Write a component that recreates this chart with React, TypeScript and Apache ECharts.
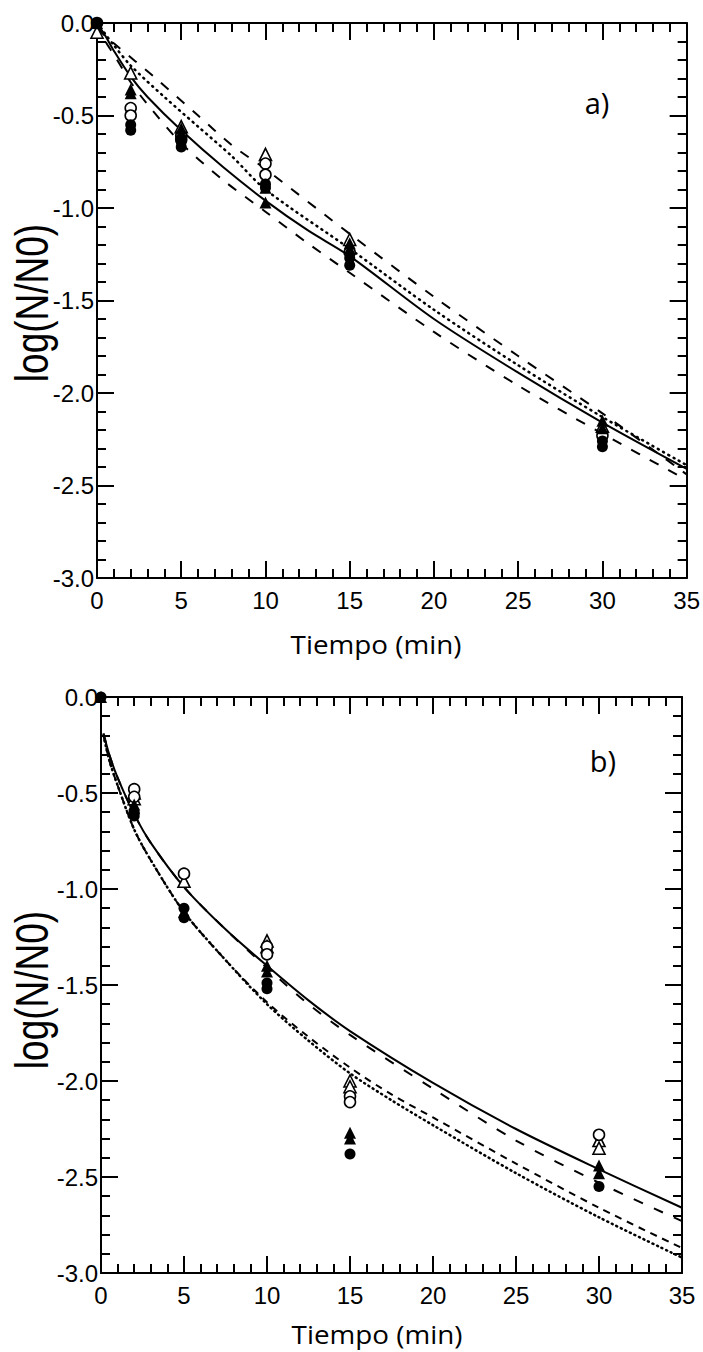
import React, { useEffect, useRef } from "react";
import * as echarts from "echarts";

// ---------- tick labels ----------
const xTicks = [0, 5, 10, 15, 20, 25, 30, 35];
const yTicks = [0, -0.5, -1.0, -1.5, -2.0, -2.5, -3.0];

// ---------- Panel a: measured points [time, log(N/N0)] ----------
const aOpenTriangle = [[0, -0.05], [2, -0.27], [5, -0.56], [10, -0.71], [15, -1.17], [30, -2.18]];
const aOpenCircle = [[0, 0], [2, -0.46], [2, -0.5], [5, -0.61], [5, -0.63], [10, -0.76], [10, -0.82], [15, -1.24], [30, -2.23]];
const aFilledTriangle = [[0, 0], [2, -0.36], [2, -0.38], [5, -0.57], [5, -0.6], [10, -0.89], [10, -0.97], [15, -1.19], [15, -1.22], [30, -2.15], [30, -2.19]];
const aFilledCircle = [[0, 0], [2, -0.55], [2, -0.58], [5, -0.64], [5, -0.67], [10, -0.87], [10, -0.89], [15, -1.27], [15, -1.31], [30, -2.26], [30, -2.29]];

// ---------- Panel a: model curves ----------
const aSolid = [[0, 0], [0.5, -0.07], [1, -0.15], [2, -0.29], [3, -0.4], [5, -0.58], [7.5, -0.78], [10, -0.96], [12.5, -1.12], [15, -1.26], [20, -1.6], [25, -1.89], [30, -2.16], [35, -2.41]];
const aDotted = [[0, 0], [1, -0.12], [2, -0.23], [4, -0.4], [6, -0.56], [8, -0.72], [10, -0.9], [15, -1.22], [20, -1.55], [25, -1.85], [30, -2.13], [35, -2.39]];
const aDashUpper = [[0, -0.03], [1, -0.11], [3.5, -0.3], [6, -0.5], [8, -0.66], [10, -0.79], [15, -1.14], [20, -1.48], [25, -1.8], [30, -2.11], [35, -2.44]];
const aDashLower = [[0, 0], [0.5, -0.1], [1, -0.17], [2, -0.32], [3, -0.44], [5, -0.65], [7.5, -0.85], [10, -1.02], [12.5, -1.19], [15, -1.35], [20, -1.67], [25, -1.96], [30, -2.22], [35, -2.47]];

// ---------- Panel b: measured points ----------
const bOpenTriangle = [[2, -0.5], [2, -0.53], [5, -0.96], [10, -1.27], [10, -1.3], [15, -2.0], [15, -2.03], [30, -2.31], [30, -2.35]];
const bOpenCircle = [[2, -0.48], [2, -0.52], [5, -0.92], [10, -1.3], [10, -1.34], [15, -2.08], [15, -2.11], [30, -2.28]];
const bFilledTriangle = [[0, 0], [2, -0.56], [2, -0.58], [5, -1.12], [10, -1.4], [10, -1.43], [15, -2.27], [15, -2.3], [30, -2.44], [30, -2.48]];
const bFilledCircle = [[0, 0], [2, -0.6], [2, -0.62], [5, -1.1], [5, -1.15], [10, -1.49], [10, -1.52], [15, -2.38], [30, -2.55]];

// ---------- Panel b: model curves ----------
const bSolid = [[0.15, -0.19], [0.5, -0.3], [1, -0.42], [2, -0.61], [3, -0.76], [5, -0.99], [7.5, -1.21], [10, -1.4], [12.5, -1.58], [15, -1.74], [20, -2.01], [25, -2.25], [30, -2.46], [35, -2.66]];
const bLongDash = [[0.15, -0.19], [0.5, -0.3], [1, -0.42], [2, -0.61], [3, -0.76], [5, -0.99], [7.5, -1.21], [10, -1.41], [12.5, -1.6], [15, -1.76], [20, -2.04], [25, -2.31], [30, -2.53], [35, -2.73]];
const bShortDash = [[0.15, -0.2], [0.5, -0.33], [1, -0.46], [2, -0.69], [3, -0.85], [5, -1.12], [7.5, -1.37], [10, -1.59], [12.5, -1.77], [15, -1.93], [17.5, -2.07], [20, -2.19], [25, -2.43], [30, -2.66], [35, -2.87]];
const bDotted = [[0.15, -0.2], [0.5, -0.33], [1, -0.46], [2, -0.69], [3, -0.85], [5, -1.12], [7.5, -1.37], [10, -1.6], [12.5, -1.79], [15, -1.96], [17.5, -2.1], [20, -2.23], [25, -2.48], [30, -2.71], [35, -2.92]];

const panelLabels = ["a)", "b)"];
const xTitle = "Tiempo (min)";
const yTitle = "log(N/N0)";

const TICK_FONT = "'Liberation Sans', Arial, sans-serif";
const TITLE_FONT = "'Open Sans', 'Noto Sans', sans-serif";

export default function App() {
  const ref = useRef<HTMLDivElement>(null);

  useEffect(() => {
    if (!ref.current) return;
    const chart = echarts.init(ref.current, null, { renderer: "svg" });

    const axisLine = { show: true, onZero: false, lineStyle: { color: "#000", width: 2 } };
    const axisTick = { show: true, inside: true, length: 17, lineStyle: { color: "#000", width: 2 } };
    const minorTick = { show: true, splitNumber: 5, length: 9, lineStyle: { color: "#000", width: 2 } };

    const makeX = (gridIndex: number, position: string, labels: boolean) => ({
      type: "value",
      gridIndex,
      position,
      min: xTicks[0],
      max: xTicks[xTicks.length - 1],
      interval: 5,
      axisLine,
      axisTick,
      minorTick,
      splitLine: { show: false },
      axisLabel: {
        show: labels,
        color: "#000",
        fontFamily: TICK_FONT,
        fontSize: 24,
        margin: 10,
        showMinLabel: true,
        showMaxLabel: true,
      },
    });
    const makeY = (gridIndex: number, position: string, labels: boolean) => ({
      type: "value",
      gridIndex,
      position,
      min: yTicks[yTicks.length - 1],
      max: yTicks[0],
      interval: 0.5,
      axisLine,
      axisTick,
      minorTick,
      splitLine: { show: false },
      axisLabel: {
        show: labels,
        color: "#000",
        fontFamily: TICK_FONT,
        fontSize: 24,
        margin: 3,
        showMinLabel: true,
        showMaxLabel: true,
        formatter: (v: number) => v.toFixed(1),
      },
    });

    const line = (data: number[][], xi: number, type: any, width = 2, cap = "butt") => ({
      type: "line",
      xAxisIndex: xi,
      yAxisIndex: xi,
      data,
      smooth: 0.3,
      symbol: "none",
      z: 2,
      lineStyle: { color: "#000", width, type, cap, opacity: 1 },
    });
    const pts = (data: number[][], xi: number, symbol: string, open: boolean) => ({
      type: "scatter",
      xAxisIndex: xi,
      yAxisIndex: xi,
      data,
      symbol,
      symbolSize: symbol === "triangle" ? 12 : 11,
      clip: false,
      z: open ? 3 : 4,
      itemStyle: open
        ? { color: "#fff", borderColor: "#000", borderWidth: 1.6, opacity: 1 }
        : { color: "#000", borderColor: "#000", borderWidth: 0, opacity: 1 },
    });

    const text = (
      t: string,
      x: number,
      y: number,
      font: string,
      size: number,
      rotation = 0,
      scaleX = 1,
      scaleY = 1
    ) => ({
      type: "text",
      x,
      y,
      rotation,
      scaleX,
      scaleY,
      style: {
        text: t,
        fontFamily: font,
        fontSize: size,
        fill: "#000",
        align: "center",
        verticalAlign: "middle",
      },
    });

    chart.setOption({
      animation: false,
      backgroundColor: "#fff",
      grid: [
        { left: 97, top: 23, width: 591, height: 555 },
        { left: 101, top: 697, width: 581, height: 576 },
      ],
      xAxis: [makeX(0, "bottom", true), makeX(0, "top", false), makeX(1, "bottom", true), makeX(1, "top", false)],
      yAxis: [makeY(0, "left", true), makeY(0, "right", false), makeY(1, "left", true), makeY(1, "right", false)],
      series: [
        line(aDashUpper, 0, [10, 11]),
        line(aDashLower, 0, [10, 11]),
        line(aDotted, 0, [1, 5], 2.5, "round"),
        line(aSolid, 0, "solid", 2),
        pts(aOpenTriangle, 0, "triangle", true),
        pts(aOpenCircle, 0, "circle", true),
        pts(aFilledTriangle, 0, "triangle", false),
        pts(aFilledCircle, 0, "circle", false),

        line(bShortDash, 2, [7, 6]),
        line(bDotted, 2, [1, 4], 2.5, "round"),
        line(bLongDash, 2, [10, 12]),
        line(bSolid, 2, "solid", 2),
        pts(bOpenTriangle, 2, "triangle", true),
        pts(bOpenCircle, 2, "circle", true),
        pts(bFilledTriangle, 2, "triangle", false),
        pts(bFilledCircle, 2, "circle", false),
      ],
      graphic: [
        text(yTitle, 32, 303, TICK_FONT, 37, Math.PI / 2, 1, 1.25),
        text(yTitle, 32, 990, TICK_FONT, 37, Math.PI / 2, 1, 1.25),
        text(xTitle, 376, 644, TITLE_FONT, 26, 0, 1.07, 1),
        text(xTitle, 377, 1334, TITLE_FONT, 26, 0, 1.07, 1),
        text(panelLabels[0], 597, 102, TITLE_FONT, 29),
        text(panelLabels[1], 603, 760, TITLE_FONT, 29),
      ],
    });

    return () => chart.dispose();
  }, []);

  return (
    <div
      ref={ref}
      style={{ position: "absolute", left: 0, top: 0, width: 703, height: 1352, background: "#fff" }}
    />
  );
}
